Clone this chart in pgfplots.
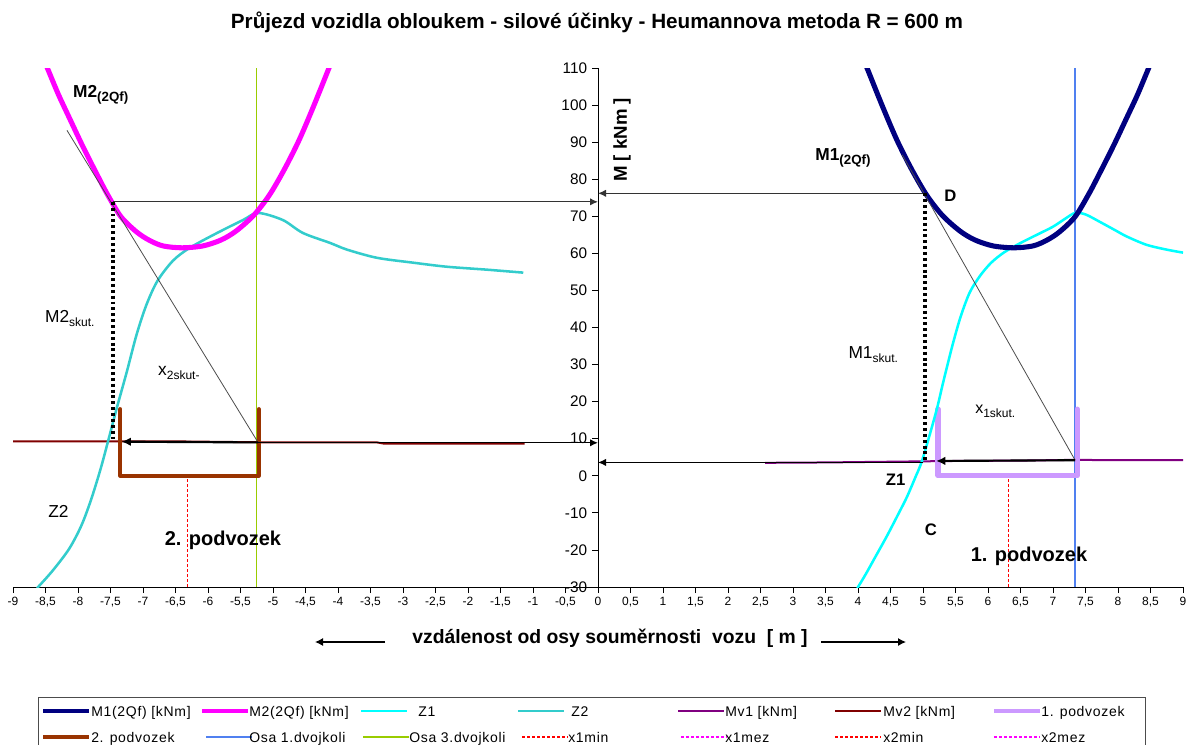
\documentclass[border=0pt]{standalone}
\usepackage{fontspec}
\setmainfont{Liberation Sans}
\newfontfamily\legfont[LetterSpace=5]{Liberation Sans}
\usepackage{pgfplots}
\pgfplotsset{compat=1.18}
\usetikzlibrary{arrows.meta}
\definecolor{cMone}{HTML}{000080}
\definecolor{cMtwo}{HTML}{FF00FF}
\definecolor{cZone}{HTML}{00FFFF}
\definecolor{cZtwo}{HTML}{33CCCC}
\definecolor{cMvone}{HTML}{800080}
\definecolor{cMvtwo}{HTML}{800000}
\definecolor{cPone}{HTML}{CC99FF}
\definecolor{cPtwo}{HTML}{993300}
\definecolor{cOone}{HTML}{5080F0}
\definecolor{cOthree}{HTML}{99CC00}
\definecolor{cRed}{HTML}{FF0000}
\newcommand{\sub}[2][9]{\raisebox{-0.45ex}{\fontsize{#1}{#1}\selectfont #2}}
\newcommand{\legitem}[5]{%
  \draw[#3] (#1pt,#2pt) -- (#1pt+34.5pt,#2pt);
  \node[anchor=base west, inner sep=0pt, font=\legfont\fontsize{10.5}{11}\selectfont] at (#1pt+#4pt,#2pt-3.8pt) {#5};}
\begin{document}
\begin{tikzpicture}
\begin{axis}[
  at={(0pt,0pt)}, anchor=south west,
  scale only axis, width=877.5pt, height=389.25pt,
  xmin=-9, xmax=9, ymin=-30, ymax=110,
  axis x line=bottom, axis y line=middle,
  axis line style={-, black, line width=0.7pt},
  xtick={-9,-8.5,...,9.1}, ytick={-30,-20,...,110},
  tick align=outside, major tick length=4.5pt,
  tick style={black, line width=0.6pt},
  hide obscured x ticks=false, hide obscured y ticks=false,
  /pgf/number format/.cd, use comma, fixed, assume math mode=true, /pgfplots/.cd,
  xticklabel style={font=\fontsize{9}{10}\selectfont, inner sep=3pt},
  yticklabel style={font=\fontsize{11.5}{12}\selectfont, inner sep=3.5pt},
  clip mode=individual,
]
% vertical axle lines
\addplot[cOone, line width=1pt] coordinates {(7.34,-30) (7.34,110)};
\addplot[cOthree, line width=1pt] coordinates {(-5.25,-30) (-5.25,110)};
\addplot[draw=cRed, dash pattern=on 2pt off 1.75pt, line width=0.7pt] coordinates {(6.31,-30) (6.31,0)};
\addplot[draw=cRed, dash pattern=on 2pt off 1.75pt, line width=0.7pt] coordinates {(-6.31,-30) (-6.31,0)};
% Mv lines
\addplot[cMvone, line width=1.5pt] coordinates {(2.57,3.5) (3.5,3.6) (4.5,3.8) (5.5,4.0) (6.5,4.1) (7.34,4.3) (8,4.2) (9,4.2)};
\addplot[cMvtwo, line width=1.5pt] coordinates {(-9,9.3) (-6.6,9.3) (-5,9.0) (-3.4,9.0) (-3.3,8.7) (-1.13,8.7)};
% bogies
\addplot[cPone, line width=3.8pt, line join=round, line cap=round] coordinates {(5.23,18) (5.23,0) (7.37,0) (7.37,18)};
\addplot[cPtwo, line width=3pt, line join=round, line cap=round] coordinates {(-7.35,18) (-7.35,0) (-5.22,0) (-5.22,18)};
% Z curves
\addplot[cZone, line width=1.9pt, smooth] coordinates {(3.99,-30.3) (4.12,-26.5) (4.25,-22.4) (4.44,-16.4) (4.6,-11) (4.75,-5.8) (4.88,-0.5) (4.98,3.8) (5.11,11.5) (5.22,18.5) (5.31,25.2) (5.45,35) (5.58,43) (5.72,49.5) (5.88,54) (6.05,57.5) (6.25,60.3) (6.5,62.8) (6.75,65) (7.0,67.2) (7.2,69.5) (7.34,70.9) (7.5,70.5) (7.72,68.5) (7.95,66.3) (8.14,64.5) (8.44,62.3) (8.75,61) (9,60.2)};
\addplot[cZtwo, line width=1.9pt, smooth] coordinates {(-8.63,-30.3) (-8.4,-25.8) (-8.14,-19.8) (-7.95,-13.5) (-7.8,-6.5) (-7.65,2) (-7.52,10.5) (-7.4,18.5) (-7.25,28) (-7.1,38) (-6.95,46) (-6.78,52.5) (-6.54,58) (-6.28,61.5) (-5.86,65.5) (-5.46,69) (-5.23,70.9) (-4.85,69) (-4.54,65.5) (-4.12,62.8) (-3.86,61) (-3.4,58.8) (-2.85,57.5) (-2.33,56.4) (-1.71,55.6) (-1.15,54.8)};
% M curves
\addplot[cMone, line width=3.8pt, smooth] coordinates {(4.08,112.5) (4.15,109.5) (4.38,99.5) (4.6,90.5) (4.83,82.5) (5.06,75.6) (5.3,70.2) (5.57,66) (5.8,63.6) (6.08,62) (6.4,61.5) (6.69,62) (6.9,63.5) (7.1,65.8) (7.34,69.9) (7.55,76) (7.72,81.7) (7.93,89) (8.14,96.8) (8.3,102.8) (8.46,109.5) (8.52,112)};
\addplot[cMtwo, line width=3.8pt, smooth] coordinates {(-8.52,112) (-8.46,109.5) (-8.3,102.8) (-8.14,96.8) (-7.93,89) (-7.72,81.7) (-7.55,76) (-7.34,69.9) (-7.1,65.8) (-6.9,63.5) (-6.69,62) (-6.4,61.5) (-6.08,62) (-5.8,63.6) (-5.57,66) (-5.3,70.2) (-5.06,75.6) (-4.83,82.5) (-4.6,90.5) (-4.38,99.5) (-4.15,109.5) (-4.08,112.5)};
% annotation lines
\addplot[black!70, line width=0.6pt] coordinates {(4.68,86.6) (7.34,4.2)};
\addplot[black!70, line width=0.6pt] coordinates {(-8.17,93.2) (-5.23,9.0)};
\addplot[black!80, line width=0.9pt, -{Latex[length=6pt,width=5.5pt]}] coordinates {(-7.46,73.9) (0,73.9)};
\addplot[black!80, line width=0.9pt, -{Latex[length=6pt,width=5.5pt]}] coordinates {(5.03,76.2) (0,76.2)};
\addplot[black, line width=0.9pt, -{Latex[length=6pt,width=5.5pt]}] coordinates {(-5.23,8.9) (0,8.9)};
\addplot[black, line width=0.9pt, -{Latex[length=6pt,width=5.5pt]}] coordinates {(5.0,3.6) (0,3.6)};
\addplot[black, line width=1.6pt, -{Latex[length=7pt,width=6.5pt]}] coordinates {(-5.23,9.0) (-7.33,9.2)};
\addplot[black, line width=1.6pt, -{Latex[length=7pt,width=6.5pt]}] coordinates {(7.34,4.2) (5.2,4.0)};
\addplot[black, line width=2.6pt, dash pattern=on 2.2pt off 2.2pt] coordinates {(5.03,76.2) (5.03,3.8)};
\addplot[black, line width=2.6pt, dash pattern=on 2.2pt off 2.2pt] coordinates {(-7.46,73.9) (-7.46,9.3)};
% text labels
\node[anchor=west, inner sep=0pt, font=\fontsize{13}{14}\selectfont\bfseries] at (axis cs:-8.08,102.8) {M2\sub[10]{(2Qf)}};
\node[anchor=west, inner sep=0pt, font=\fontsize{13}{14}\selectfont\bfseries] at (axis cs:3.34,85.8) {M1\sub[10]{(2Qf)}};
\node[inner sep=0pt, font=\fontsize{12.5}{14}\selectfont\bfseries] at (axis cs:5.42,75.5) {D};
\node[anchor=west, inner sep=0pt, font=\fontsize{13}{14}\selectfont] at (axis cs:-8.51,42.5) {M2\sub{skut.}};
\node[anchor=west, inner sep=0pt, font=\fontsize{13}{14}\selectfont] at (axis cs:-6.77,27.8) {x\sub{2skut-}};
\node[anchor=west, inner sep=0pt, font=\fontsize{13}{14}\selectfont] at (axis cs:3.85,32.6) {M1\sub{skut.}};
\node[anchor=west, inner sep=0pt, font=\fontsize{12}{14}\selectfont] at (axis cs:5.8,17.3) {x\sub{1skut.}};
\node[inner sep=0pt, font=\fontsize{12.5}{14}\selectfont\bfseries] at (axis cs:4.58,-1.1) {Z1};
\node[inner sep=0pt, font=\fontsize{13}{14}\selectfont] at (axis cs:-8.3,-9.7) {Z2};
\node[inner sep=0pt, font=\fontsize{12.5}{14}\selectfont\bfseries] at (axis cs:5.12,-14.6) {C};
\node[inner sep=0pt, font=\fontsize{15}{16}\selectfont\bfseries] at (axis cs:-5.77,-17.3) {2. podvozek};
\node[inner sep=0pt, font=\fontsize{15}{16}\selectfont\bfseries] at (axis cs:6.63,-21.8) {1. podvozek};
\node[rotate=90, inner sep=0pt, font=\fontsize{14}{15}\selectfont\bfseries] at (axis cs:0.37,90.6) {M [ kNm ]};
\end{axis}
% legend (drawn by hand)
\draw[black!70, line width=0.75pt] (18.75pt,-125pt) -- (18.75pt,-82.5pt) -- (849pt,-82.5pt) -- (849pt,-125pt);
\legitem{22.5}{-93}{cMone, line width=3.5pt}{36}{M1(2Qf) [kNm]}
\legitem{141.75}{-93}{cMtwo, line width=3.5pt}{35.25}{M2(2Qf) [kNm]}
\legitem{261}{-93}{cZone, line width=1.9pt}{42.75}{Z1}
\legitem{378.75}{-93}{cZtwo, line width=1.9pt}{39.75}{Z2}
\legitem{498.75}{-93}{cMvone, line width=1.5pt}{35.25}{Mv1 [kNm]}
\legitem{616.5}{-93}{cMvtwo, line width=1.5pt}{36}{Mv2 [kNm]}
\legitem{735.75}{-93}{cPone, line width=3.5pt}{35.25}{1. podvozek}
\legitem{22.5}{-112.5}{cPtwo, line width=3pt}{36}{2. podvozek}
\legitem{144.75}{-112.5}{cOone, line width=0.9pt}{32.25}{Osa 1.dvojkoli}
\legitem{262.5}{-112.5}{cOthree, line width=0.9pt}{34.5}{Osa 3.dvojkoli}
\legitem{381.75}{-112.5}{draw=cRed, dash pattern=on 2pt off 1.75pt, line width=1pt}{34.5}{x1min}
\legitem{501}{-112.5}{draw=cMtwo, dash pattern=on 2pt off 1.75pt, line width=1pt}{33}{x1mez}
\legitem{616.5}{-112.5}{draw=cRed, dash pattern=on 2pt off 1.75pt, line width=1pt}{36}{x2min}
\legitem{735.75}{-112.5}{draw=cMtwo, dash pattern=on 2pt off 1.75pt, line width=1pt}{35.25}{x2mez}
% title and x label
\node[font=\fontsize{15.5}{17}\selectfont\bfseries] at (438pt,423.75pt) {Průjezd vozidla obloukem - silové účinky - Heumannova metoda R = 600 m};
\node[font=\fontsize{14.5}{16}\selectfont\bfseries] at (447.75pt,-38.5pt) {vzdálenost od osy souměrnosti\ \ vozu\ \ [ m ]};
\draw[line width=0.9pt, -{Latex[length=6pt,width=6pt]}] (279pt,-41.25pt) -- (226.5pt,-41.25pt);
\draw[line width=0.9pt, -{Latex[length=6pt,width=6pt]}] (606pt,-41.25pt) -- (669.75pt,-41.25pt);
\pgfresetboundingbox
\path (-9.75pt,-117.75pt) rectangle (885.75pt,440.25pt);
\end{tikzpicture}
\end{document}
